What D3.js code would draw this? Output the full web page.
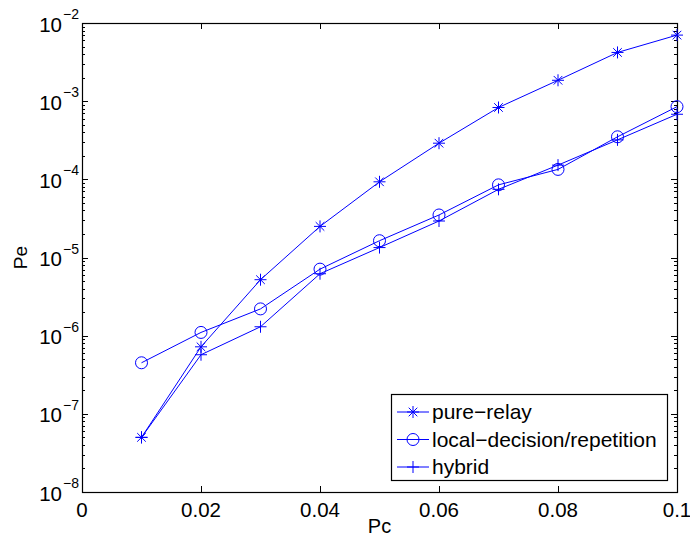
<!DOCTYPE html>
<html>
<head>
<meta charset="utf-8">
<script src="https://cdn.jsdelivr.net/npm/d3@7"></script>
<style>
  body { margin: 0; background: #fff; }
  text { font-family: "Liberation Sans", Arial, sans-serif; }
</style>
</head>
<body>
<svg id="chart" width="690" height="537"></svg>
<script>
// data
const pc = [0.01, 0.02, 0.03, 0.04, 0.05, 0.06, 0.07, 0.08, 0.09, 0.1];
const pureRelay = [5e-8, 7.2e-7, 5.2e-6, 2.5e-5, 9.3e-5, 2.9e-4, 8.3e-4, 1.85e-3, 4.2e-3, 7.0e-3];
const localDecision = [4.5e-7, 1.1e-6, 2.2e-6, 7.1e-6, 1.64e-5, 3.5e-5, 8.5e-5, 1.34e-4, 3.5e-4, 8.5e-4];
const hybrid = [5e-8, 5.7e-7, 1.3e-6, 6.2e-6, 1.34e-5, 2.93e-5, 7.45e-5, 1.52e-4, 3.2e-4, 6.8e-4];
const xTicks = [0, 0.02, 0.04, 0.06, 0.08, 0.1];
const xTickLabels = ["0", "0.02", "0.04", "0.06", "0.08", "0.1"];
const yExponents = [-8, -7, -6, -5, -4, -3, -2];

const series = [
  { name: "pure\u2212relay", values: pureRelay, marker: "star" },
  { name: "local\u2212decision/repetition", values: localDecision, marker: "circle" },
  { name: "hybrid", values: hybrid, marker: "plus" }
];

const BLUE = "#0000ff";
const margin = { left: 82, top: 23, right: 13, bottom: 45 };
const svg = d3.select("#chart");
const W = 690 - margin.left - margin.right;
const H = 537 - margin.top - margin.bottom;

const x = d3.scaleLinear().domain([0, 0.1]).range([0, W]);
const y = d3.scaleLog().domain([1e-8, 1e-2]).range([H, 0]);

const g = svg.append("g").attr("transform", `translate(${margin.left},${margin.top})`);

// ticks (inward, both sides)
const ticks = g.append("g").attr("stroke", "#000").attr("stroke-width", 1);
xTicks.forEach(t => {
  const px = Math.round(x(t)) + 0.5;
  ticks.append("line").attr("x1", px).attr("x2", px).attr("y1", H).attr("y2", H - 6);
  ticks.append("line").attr("x1", px).attr("x2", px).attr("y1", 0).attr("y2", 6);
});
yExponents.forEach((e, i) => {
  const base = Math.pow(10, e);
  const py = Math.round(y(base)) + 0.5;
  ticks.append("line").attr("x1", 0).attr("x2", 6).attr("y1", py).attr("y2", py);
  ticks.append("line").attr("x1", W).attr("x2", W - 6).attr("y1", py).attr("y2", py);
  if (i < yExponents.length - 1) {
    for (let m = 2; m <= 9; m++) {
      const my = Math.round(y(base * m)) + 0.5;
      ticks.append("line").attr("x1", 0).attr("x2", 3).attr("y1", my).attr("y2", my);
      ticks.append("line").attr("x1", W).attr("x2", W - 3).attr("y1", my).attr("y2", my);
    }
  }
});

// frame
g.append("rect").attr("x", 0.5).attr("y", 0.5).attr("width", W).attr("height", H)
  .attr("fill", "none").attr("stroke", "#000").attr("stroke-width", 1.2);

// tick labels
xTicks.forEach((t, i) => {
  g.append("text").attr("x", x(t)).attr("y", H + 25)
    .attr("text-anchor", "middle").attr("font-size", 20.5).text(xTickLabels[i]);
});
yExponents.forEach(e => {
  const py = y(Math.pow(10, e));
  g.append("text").attr("x", -20).attr("y", py + 8.5)
    .attr("text-anchor", "end").attr("font-size", 20.5).text("10");
  g.append("text").attr("x", -19).attr("y", py - 4)
    .attr("font-size", 14).text("\u2212" + Math.abs(e));
});

// axis titles
g.append("text").attr("x", W / 2).attr("y", H + 41)
  .attr("text-anchor", "middle").attr("font-size", 20).text("Pc");
g.append("text").attr("transform", `translate(${-55},${H / 2}) rotate(-90)`)
  .attr("text-anchor", "middle").attr("font-size", 19).text("Pe");

function drawMarker(sel, type) {
  if (type === "circle") {
    sel.append("circle").attr("r", 6).attr("fill", "none").attr("stroke", BLUE);
  } else if (type === "plus") {
    sel.append("path").attr("d", "M-6,0H6M0,-6V6").attr("stroke", BLUE).attr("fill", "none");
  } else {
    const a = 4.3;
    sel.append("path")
      .attr("d", `M-6,0H6M0,-6V6M${-a},${-a}L${a},${a}M${-a},${a}L${a},${-a}`)
      .attr("stroke", BLUE).attr("fill", "none");
  }
}

const line = d3.line().x(d => x(d[0])).y(d => y(d[1]));
series.forEach(s => {
  const pts = pc.map((p, i) => [p, s.values[i]]);
  g.append("path").datum(pts).attr("d", line)
    .attr("fill", "none").attr("stroke", BLUE).attr("stroke-width", 1);
  pts.forEach(p => {
    const m = g.append("g").attr("transform", `translate(${x(p[0])},${y(p[1])})`);
    drawMarker(m, s.marker);
  });
});

// legend
const lg = svg.append("g").attr("transform", "translate(391,394)");
lg.append("rect").attr("x", 0.5).attr("y", 0.5).attr("width", 276).attr("height", 86)
  .attr("fill", "#fff").attr("stroke", "#000").attr("stroke-width", 1.2);
series.forEach((s, i) => {
  const ry = 18 + i * 27.5;
  lg.append("line").attr("x1", 6).attr("x2", 38).attr("y1", ry).attr("y2", ry)
    .attr("stroke", BLUE).attr("stroke-width", 1);
  drawMarker(lg.append("g").attr("transform", `translate(22,${ry})`), s.marker);
  lg.append("text").attr("x", 41).attr("y", ry + 7).attr("font-size", 21).text(s.name);
});
</script>
</body>
</html>
